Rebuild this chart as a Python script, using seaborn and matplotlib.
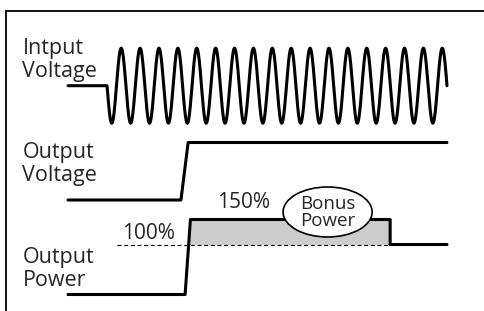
import numpy as np
import matplotlib.pyplot as plt
import seaborn as sns
from matplotlib.patches import Ellipse
from matplotlib.lines import Line2D

# time runs from 0 to 100 across all three traces
t_end = 100
input_on = 10.3          # input voltage switched on
input_cycles = 18        # cycles of the input sine after switch-on
vout_t = [0, 29.8, 31.7, 100]
vout_v = [0, 0, 1, 1]
power_t = [0, 30.9, 32.3, 85.0, 85.0, 100]
power_p = [0, 0, 150, 150, 100, 100]
rated_pct = 100
bonus_pct = 150
rated_from = 12.9        # where the dashed 100% line starts
bonus_center = (68.5, 165)

track_labels = ['Intput\nVoltage', 'Output\nVoltage', 'Output\nPower']

sns.set_theme(style='white')
plt.rcParams['font.family'] = ['Open Sans', 'DejaVu Sans']

W, H = 484, 311
fig = plt.figure(figsize=(W / 100, H / 100), dpi=100)

# each trace gets its own transparent axes over the whole figure
x0_px, px_per_t = 68, 3.79


def track(base_px, px_per_unit):
    ax = fig.add_axes([0, 0, 1, 1])
    ax.patch.set_visible(False)
    for sp in ax.spines.values():
        sp.set_visible(False)
    ax.axis('off')
    return ax, (-x0_px / px_per_t, (W - x0_px) / px_per_t), \
        ((base_px - H) / px_per_unit, base_px / px_per_unit)


line_kw = dict(sort=False, estimator=None, color='black', lw=2.2)

# input voltage
ax1, xl, yl = track(85.7, 37.5)
t_sine = np.linspace(input_on, t_end, 2000)
t_in = np.concatenate([[0], t_sine])
v_in = np.concatenate([[0], -np.sin(2 * np.pi * input_cycles * (t_sine - input_on) / (t_end - input_on))])
sns.lineplot(x=t_in, y=v_in, ax=ax1, **line_kw)
ax1.set_xlim(xl); ax1.set_ylim(yl)

# output voltage
ax2, xl, yl = track(200, 57.5)
sns.lineplot(x=vout_t, y=vout_v, ax=ax2, **line_kw)
ax2.set_xlim(xl); ax2.set_ylim(yl)

# output power
ax3, xl, yl = track(294.5, 0.5)
t_rated = np.interp(rated_pct, [power_p[1], power_p[2]], [power_t[1], power_t[2]])
ax3.fill_between([t_rated, power_t[2], power_t[3]], rated_pct, [rated_pct, bonus_pct, bonus_pct],
                 color='#cccccc', lw=0, zorder=1)
ax3.plot([rated_from, power_t[3]], [rated_pct, rated_pct], color='black', lw=0.8,
         dashes=(3.6, 2.4), zorder=2)
sns.lineplot(x=power_t, y=power_p, ax=ax3, zorder=3, **line_kw)
ax3.add_patch(Ellipse(bonus_center, 23.5, 100, facecolor='white', edgecolor='black', lw=1.2, zorder=5))
ax3.text(bonus_center[0], bonus_center[1] - 1, 'Bonus\nPower', ha='center', va='center',
         fontsize=13.5, linespacing=0.95, zorder=6)
ax3.text(46.2, 184, f'{bonus_pct}%', ha='center', va='center', fontsize=15)
ax3.text(21.2, 122, f'{rated_pct}%', ha='center', va='center', fontsize=15)
ax3.set_xlim(xl); ax3.set_ylim(yl)

# labels and frame in pixel space
ov = fig.add_axes([0, 0, 1, 1])
ov.patch.set_visible(False)
ov.axis('off')
ov.set_xlim(0, W); ov.set_ylim(H, 0)
for lab, y in zip(track_labels, [77, 181, 286]):
    ov.text(22.5, y, lab, ha='left', va='baseline', fontsize=15.5, linespacing=1.1)
ov.add_line(Line2D([6, W + 5], [11, 11], color='black', lw=1.3))
ov.add_line(Line2D([6, 6], [11, H + 5], color='black', lw=1.3))

fig.savefig('out.png', dpi=100)
